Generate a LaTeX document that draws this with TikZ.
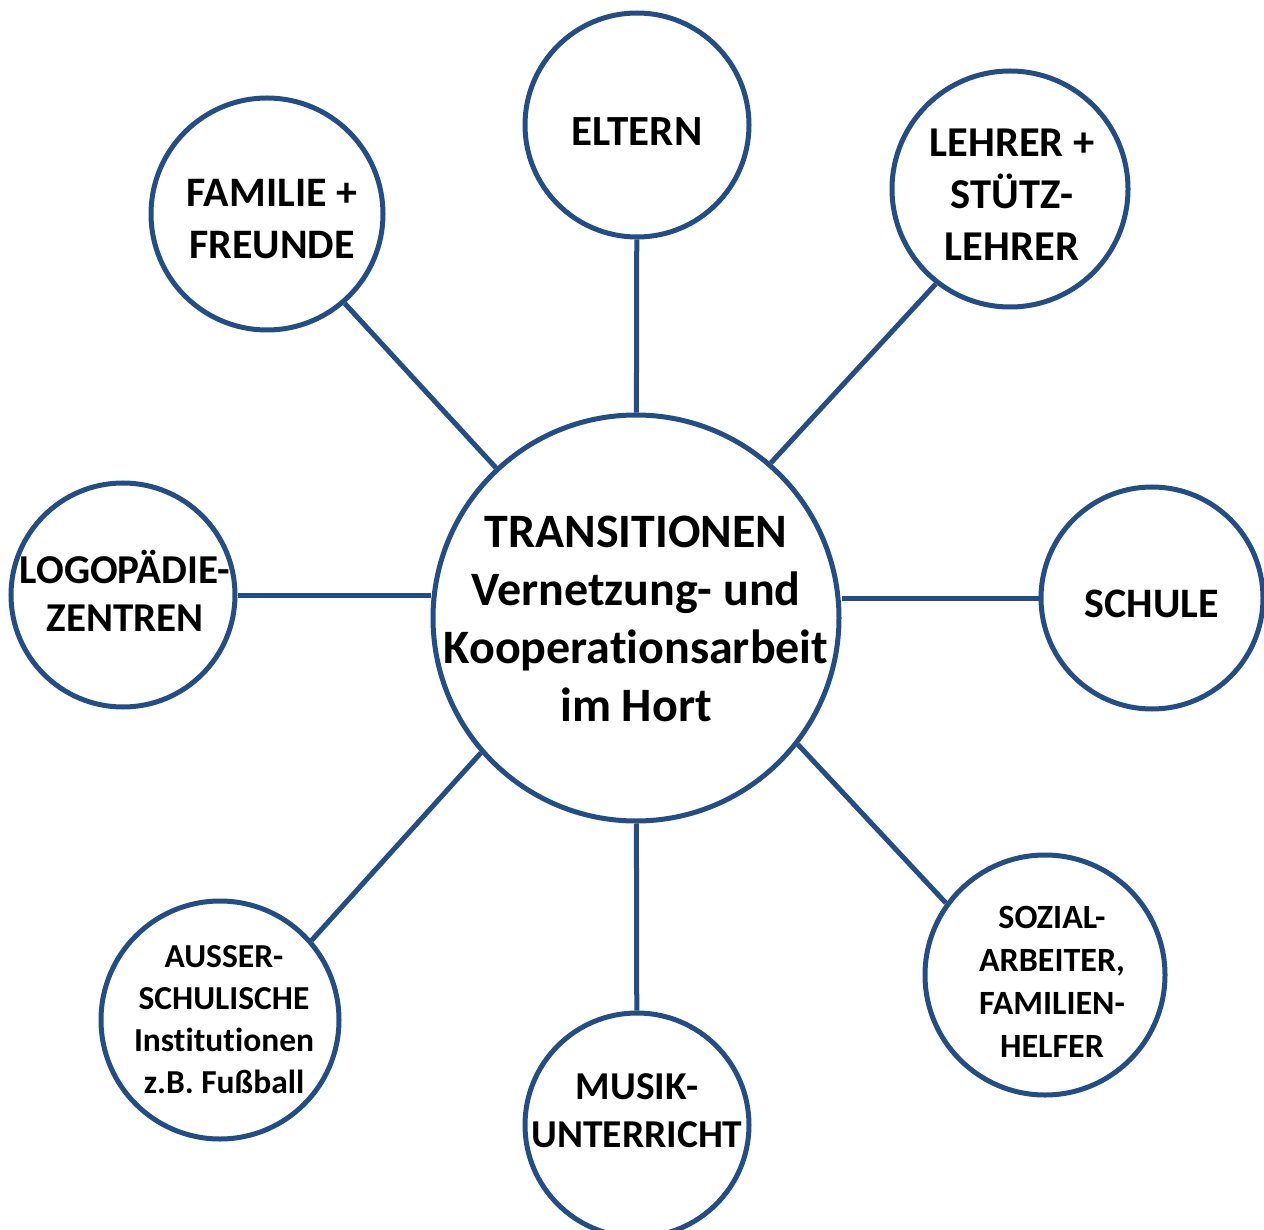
\documentclass[tikz,border=0pt]{standalone}
\usepackage{fontspec}
\setmainfont{Carlito}[Ligatures=NoCommon]
\definecolor{ringblue}{HTML}{234D84}
\begin{document}
\begin{tikzpicture}[x=1pt,y=-1pt,
  ring/.style={circle,draw=ringblue,line width=5pt,fill=white,inner sep=0pt},
  lbl/.style={align=center,inner sep=0pt},
  link/.style={draw=ringblue,line width=5pt}]
\clip (0,0) rectangle (1264,1230);
\fill[white] (0,0) rectangle (1264,1230);
% circles
\node[ring,minimum size=406pt] (cen) at (636,618) {};
\node[ring,minimum size=224pt] (elt) at (637,125) {};
\node[ring,minimum size=236pt] (leh) at (1010,189) {};
\node[ring,minimum size=232pt] (fam) at (267,214) {};
\node[ring,minimum size=224pt] (logo) at (123,595) {};
\node[ring,minimum size=222pt] (sch) at (1152,598) {};
\node[ring,minimum size=238pt] (aus) at (220,1020) {};
\node[ring,minimum size=224pt] (mus) at (637,1125) {};
\node[ring,minimum size=240pt] (soz) at (1045,975) {};
% connectors
\draw[link] (elt) -- (cen);
\draw[link] (leh.232) -- (cen.49.6);
\draw[link] (fam.-49) -- (cen.133);
\draw[link] (aus.41.6) -- (cen.221.4);
\draw[link] (soz.144.5) -- (cen.-38);
\draw[link] (mus) -- (cen);
\draw[link] (logo.east) -- (logo.east -| cen.west);
\draw[link] (sch.west) -- (sch.west -| cen.east);
% labels
\node[lbl,font=\bfseries\fontsize{48}{58}\selectfont] (tcen) at (636,619) {TRANSITIONEN\\Vernetzung- und\\Kooperationsarbeit\\im Hort};
\node[lbl,font=\bfseries\fontsize{43}{52}\selectfont] (telt) at (637,132) {ELTERN};
\node[lbl,font=\bfseries\fontsize{42.5}{52}\selectfont] (tleh) at (1012,195) {LEHRER +\\STÜTZ-\\LEHRER};
\node[lbl,font=\bfseries\fontsize{42}{52}\selectfont] (tfam) at (272,219) {FAMILIE +\\FREUNDE};
\node[lbl,font=\bfseries\fontsize{41}{48}\selectfont] (tlogo) at (125,591) {LOGOPÄDIE-\\ZENTREN};
\node[lbl,font=\bfseries\fontsize{42}{48}\selectfont] (tsch) at (1152,604) {SCHULE};
\node[lbl,font=\bfseries\fontsize{39.5}{48}\selectfont] (tmus) at (637,1111) {MUSIK-\\UNTERRICHT};
\node[lbl,font=\bfseries\fontsize{33.5}{42}\selectfont] (taus) at (224,1020) {AUSSER-\\SCHULISCHE\\Institutionen\\z.B. Fußball};
\node[lbl,font=\bfseries\fontsize{34}{43}\selectfont] (tsoz) at (1052,982) {SOZIAL-\\ARBEITER,\\FAMILIEN-\\HELFER};
\end{tikzpicture}
\end{document}
